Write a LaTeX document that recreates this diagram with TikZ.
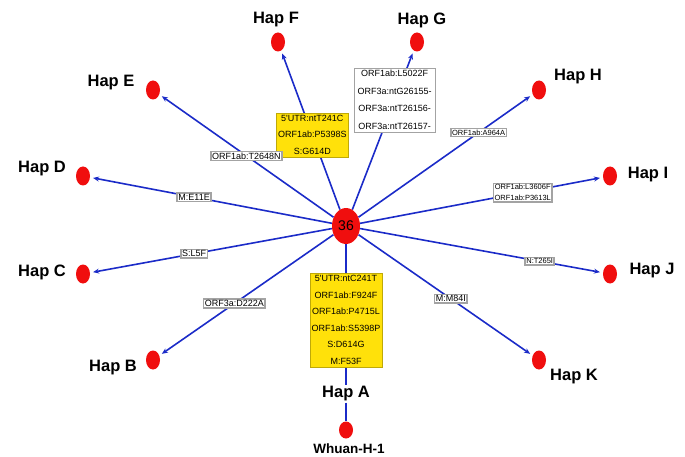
\documentclass[tikz,border=0pt]{standalone}
\usepackage{fontspec}
\setmainfont{Liberation Sans}
\usetikzlibrary{arrows.meta,positioning,shapes.geometric,backgrounds}
\definecolor{hapred}{HTML}{F00E0E}
\definecolor{edgeblue}{HTML}{1B2BC8}
\definecolor{gold}{HTML}{FFE10A}
\definecolor{tagline}{HTML}{A3A3A3}
\newcommand{\hapfont}{\fontsize{16.5}{18}\selectfont\bfseries}

\begin{document}
\begin{tikzpicture}[
  x=1pt, y=-1pt,
  dot/.style={ellipse, fill=hapred, minimum width=14pt, minimum height=19pt, inner sep=0pt},
  hubnode/.style={ellipse, fill=hapred, minimum width=28pt, minimum height=36pt,
                  inner sep=0pt, font=\fontsize{14}{15}\selectfont},
  hapname/.style={font=\hapfont, inner sep=1pt},
  tag/.style={draw=tagline, fill=white, inner sep=1.2pt, align=center,
              font=\fontsize{9}{11}\selectfont},
  smalltag/.style={tag, font=\fontsize{7.5}{10.5}\selectfont},
  snpbox/.style={draw=gold!75!black, line width=0.3pt, fill=gold, align=center,
                 inner xsep=1.5pt, inner ysep=2.5pt, font=\fontsize{9}{16.5}\selectfont},
  arrow/.style={-{Stealth[length=6pt,width=5pt]}, line width=1.6pt, draw=edgeblue, shorten >=3pt},
  plain/.style={line width=1.6pt, draw=edgeblue}
]
  \useasboundingbox (0,0) rectangle (685,457);

  % haplotypes
  \node[hubnode] (hub) at (346,226) {36};
  \node[dot] (hapF) at (278,42) {};
  \node[dot] (hapG) at (417,42) {};
  \node[dot] (hapE) at (153,90) {};
  \node[dot] (hapH) at (539,90) {};
  \node[dot] (hapD) at (83,176) {};
  \node[dot] (hapI) at (610,176) {};
  \node[dot] (hapC) at (83,274) {};
  \node[dot] (hapJ) at (610,274) {};
  \node[dot] (hapB) at (153,360) {};
  \node[dot] (hapK) at (539,360) {};
  \node[dot, minimum height=17pt] (whuan) at (346,430) {};

  \node[hapname] (nameF) at (276,20) {Hap F};
  \node[hapname] (nameG) at (422,20) {Hap G};
  \node[hapname] (nameE) at (111,83) {Hap E};
  \node[hapname] (nameH) at (578,77) {Hap H};
  \node[hapname] (nameD) at (42,169) {Hap D};
  \node[hapname] (nameI) at (648,175) {Hap I};
  \node[hapname] (nameC) at (42,272) {Hap C};
  \node[hapname] (nameJ) at (652,271) {Hap J};
  \node[hapname] (nameB) at (113,368) {Hap B};
  \node[hapname] (nameK) at (574,377) {Hap K};
  \node[hapname] (nameA) at (346,394) {Hap A};
  \node[font=\fontsize{13.5}{15}\selectfont\bfseries] (nameW) at (349,449) {Whuan-H-1};

  % root branch box
  \node[snpbox] (snpA) at (346,320)
    {5\textquotesingle UTR:ntC241T\\ORF1ab:F924F\\ORF1ab:P4715L\\ORF1ab:S5398P\\S:D614G\\M:F53F};

  % mutations along each link
  \begin{scope}[on background layer]
  \draw[arrow] (hub) -- node[pos=0.47, snpbox] (snpF)
    {5\textquotesingle UTR:ntT241C\\ORF1ab:P5398S\\S:G614D} (hapF);
  \draw[arrow] (hub) -- node[pos=0.69, snpbox, draw=tagline, fill=white, inner xsep=3pt,
    font=\fontsize{9}{17.5}\selectfont] (snpG)
    {ORF1ab:L5022F\\ORF3a:ntG26155-\\ORF3a:ntT26156-\\ORF3a:ntT26157-} (hapG);
  \draw[arrow] (hub) -- node[pos=0.50, tag] (snpE) {ORF1ab:T2648N} (hapE);
  \draw[arrow] (hub) -- node[pos=0.69, smalltag] (snpH) {ORF1ab:A964A} (hapH);
  \draw[arrow] (hub) -- node[pos=0.57, tag] (snpD) {M:E11E} (hapD);
  \draw[arrow] (hub) -- node[pos=0.67, smalltag] (snpI) {ORF1ab:L3606F\\ORF1ab:P3613L} (hapI);
  \draw[arrow] (hub) -- node[pos=0.57, tag] (snpC) {S:L5F} (hapC);
  \draw[arrow] (hub) -- node[pos=0.74, smalltag] (snpJ) {N:T265I} (hapJ);
  \draw[arrow] (hub) -- node[pos=0.57, tag] (snpB) {ORF3a:D222A} (hapB);
  \draw[arrow] (hub) -- node[pos=0.53, tag] (snpK) {M:M84I} (hapK);
  \draw[plain] (hub) -- (snpA);
  \draw[plain] (snpA) -- (nameA);
  \draw[plain] (nameA) -- (whuan);
  \end{scope}
\end{tikzpicture}
\end{document}
